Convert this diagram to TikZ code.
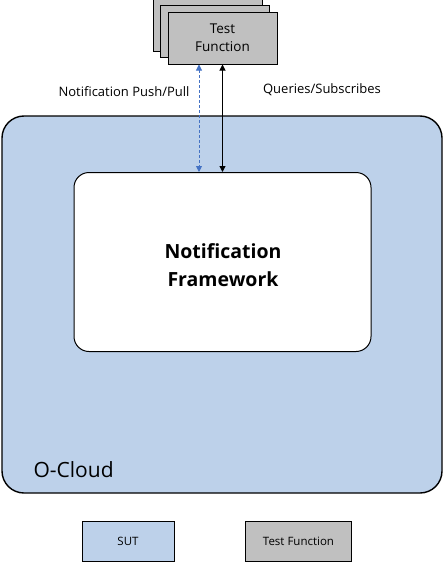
\documentclass[tikz,border=0pt]{standalone}
\usepackage{fontspec}
\setmainfont{Open Sans}
\usepackage{tikz}
\usetikzlibrary{arrows.meta, positioning, calc}
\definecolor{sutblue}{RGB}{189,209,234}
\definecolor{tfgray}{RGB}{192,192,192}
\definecolor{pushblue}{RGB}{68,114,196}
\tikzset{
  tfbox/.style={rectangle, draw=black, fill=tfgray, line width=1pt,
    minimum width=109pt, minimum height=52pt, align=center,
    font=\fontsize{13.5}{18}\selectfont},
  cloudbox/.style={rectangle, draw=black, fill=sutblue, line width=1.4pt,
    minimum width=440pt, minimum height=377pt, rounded corners=22pt},
  fwbox/.style={rectangle, draw=black, fill=white, line width=1pt,
    minimum width=297pt, minimum height=179pt, rounded corners=15pt},
  fwtitle/.style={align=center, font=\bfseries\fontsize{19.5}{28}\selectfont},
  legbox/.style={rectangle, draw=black, line width=0.8pt,
    minimum width=92pt, minimum height=40pt,
    font=\fontsize{11.5}{14}\selectfont},
  query/.style={>={Triangle[width=6pt,length=6pt]}, <->,
    line width=1pt, color=black},
  pushpull/.style={>={Triangle[width=6pt,length=6pt]}, <->,
    line width=0.9pt, dash pattern=on 3pt off 2pt, color=pushblue},
  lbl/.style={font=\fontsize{13}{15}\selectfont}
}
\begin{document}
\begin{tikzpicture}[x=1pt, y=-1pt]
  \useasboundingbox (0,0) rectangle (444,562);

  % O-Cloud and framework
  \node[cloudbox] (cloud) at (222,304.5) {};
  \node[fwbox] (fw) at (222.5,262) {};
  \node[fwtitle] (fwt) at (223,265) {Notification\\Framework};
  \node[font=\fontsize{21}{24}\selectfont, anchor=west] (oc) at (30,470) {O-Cloud};

  % Stacked test functions
  \node[tfbox] (tf3) at (207.5,25.5) {};
  \node[tfbox] (tf2) at (215,31.5) {};
  \node[tfbox] (tf) at (222.5,38) {Test\\Function};

  % Connectors
  \draw[pushpull] ([xshift=-23.5pt]tf.south) -- ([xshift=-23.5pt]tf.south |- fw.north);
  \draw[query] (tf.south) -- (tf.south |- fw.north);
  \node[lbl] (pp) at (124,92) {Notification Push/Pull};
  \node[lbl] (qs) at (322,90) {Queries/Subscribes};

  % Legend
  \node[legbox, fill=sutblue] (legsut) at (128,541) {SUT};
  \node[legbox, fill=tfgray, minimum width=106pt] (legtf) at (298.5,541) {Test Function};
\end{tikzpicture}
\end{document}
